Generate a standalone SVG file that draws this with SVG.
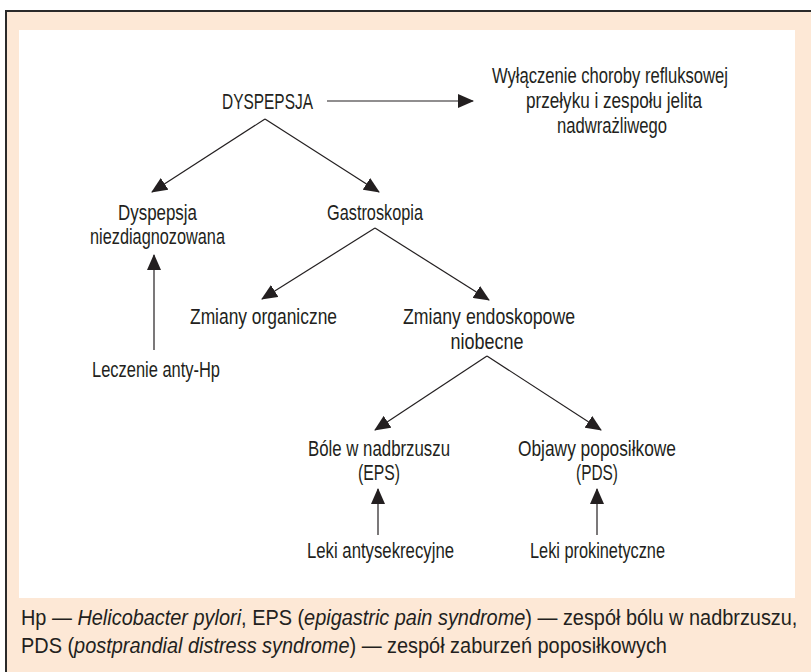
<svg xmlns="http://www.w3.org/2000/svg" width="811" height="672" viewBox="0 0 811 672">
<defs>
<style>
text{font-family:"Liberation Sans",Arial,sans-serif;font-size:22px;fill:#231f20;text-anchor:middle}
.foot{text-anchor:start;font-size:22px}
.it{font-style:italic}
.c line{stroke:#231f20;stroke-width:1.2;fill:none;marker-end:url(#ah)}
</style>
<marker id="ah" markerUnits="userSpaceOnUse" markerWidth="16" markerHeight="14" viewBox="0 0 16 14" refX="15" refY="7" orient="auto">
<path d="M0,0 L16,7 L0,14 Z" fill="#231f20"/>
</marker>
</defs>
<rect x="0" y="0" width="811" height="672" fill="#ffffff"/>
<rect x="6" y="11" width="820" height="680" fill="#fde8d6" stroke="#2a2a2a" stroke-width="2"/>
<rect x="19" y="30" width="776" height="568" fill="#ffffff"/>
<g class="c" id="connectors">
<line x1="327" y1="101" x2="473" y2="101"/>
<line x1="265" y1="119" x2="152" y2="192"/>
<line x1="265" y1="119" x2="379" y2="192"/>
<line x1="154" y1="350" x2="154" y2="255"/>
<line x1="375" y1="228" x2="262" y2="299"/>
<line x1="375" y1="228" x2="489" y2="300"/>
<line x1="487" y1="356" x2="375" y2="430"/>
<line x1="487" y1="356" x2="601" y2="430"/>
<line x1="378" y1="535" x2="378" y2="489"/>
<line x1="597" y1="535" x2="597" y2="489"/>
</g>
<g id="dyspepsja"><text x="267.5" y="109" textLength="91" lengthAdjust="spacingAndGlyphs">DYSPEPSJA</text></g>
<g id="wylaczenie"><text x="610" y="83" textLength="236" lengthAdjust="spacingAndGlyphs">Wyłączenie choroby refluksowej</text><text x="614" y="108" textLength="176" lengthAdjust="spacingAndGlyphs">przełyku i zespołu jelita</text><text x="612" y="133" textLength="110" lengthAdjust="spacingAndGlyphs">nadwrażliwego</text></g>
<g id="niezdiag"><text x="157.5" y="220" textLength="79" lengthAdjust="spacingAndGlyphs">Dyspepsja</text><text x="157.5" y="244" textLength="135" lengthAdjust="spacingAndGlyphs">niezdiagnozowana</text></g>
<g id="gastro"><text x="375" y="220" textLength="96" lengthAdjust="spacingAndGlyphs">Gastroskopia</text></g>
<g id="leczenie"><text x="156" y="377" textLength="128" lengthAdjust="spacingAndGlyphs">Leczenie anty-Hp</text></g>
<g id="organiczne"><text x="263.5" y="324" textLength="147" lengthAdjust="spacingAndGlyphs">Zmiany organiczne</text></g>
<g id="endoskopowe"><text x="489" y="324" textLength="172" lengthAdjust="spacingAndGlyphs">Zmiany endoskopowe</text><text x="487" y="349" textLength="73" lengthAdjust="spacingAndGlyphs">niobecne</text></g>
<g id="eps"><text x="379" y="456" textLength="142" lengthAdjust="spacingAndGlyphs">Bóle w nadbrzuszu</text><text x="379" y="480" textLength="42" lengthAdjust="spacingAndGlyphs">(EPS)</text></g>
<g id="pds"><text x="597" y="456" textLength="158" lengthAdjust="spacingAndGlyphs">Objawy poposiłkowe</text><text x="597" y="480" textLength="42" lengthAdjust="spacingAndGlyphs">(PDS)</text></g>
<g id="antysekrecyjne"><text x="380.5" y="558" textLength="147" lengthAdjust="spacingAndGlyphs">Leki antysekrecyjne</text></g>
<g id="prokinetyczne"><text x="597.5" y="558" textLength="135" lengthAdjust="spacingAndGlyphs">Leki prokinetyczne</text></g>
<g id="footer">
<text class="foot" transform="matrix(0.905 0 0 1 21 625)">Hp — <tspan class="it">Helicobacter pylori</tspan>, EPS (<tspan class="it">epigastric pain syndrome</tspan>) — zespół bólu w nadbrzuszu,</text>
<text class="foot" transform="matrix(0.905 0 0 1 21 653)">PDS (<tspan class="it">postprandial distress syndrome</tspan>) — zespół zaburzeń poposiłkowych</text>
</g>
</svg>
